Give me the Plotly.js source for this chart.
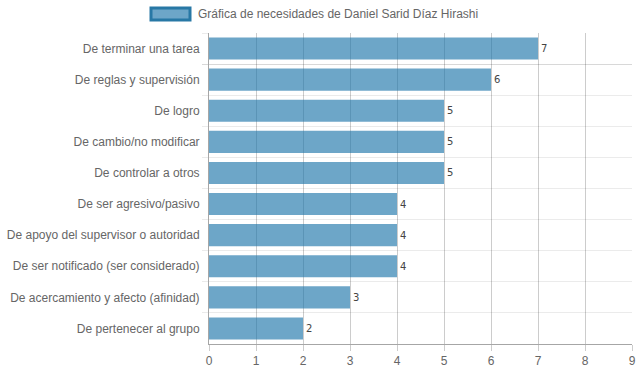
<!DOCTYPE html>
<html>
<head>
<meta charset="utf-8">
<script src="https://cdn.plot.ly/plotly-3.0.1.min.js"></script>
<style>html,body{margin:0;padding:0;background:#fff;}#chart{width:639px;height:372px;}</style>
</head>
<body>
<div id="chart"></div>
<script>
var categories = [
  "De terminar una tarea",
  "De reglas y supervisión",
  "De logro",
  "De cambio/no modificar",
  "De controlar a otros",
  "De ser agresivo/pasivo",
  "De apoyo del supervisor o autoridad",
  "De ser notificado (ser considerado)",
  "De acercamiento y afecto (afinidad)",
  "De pertenecer al grupo"
];
var values = [7, 6, 5, 5, 5, 4, 4, 4, 3, 2];
var seriesName = "Gráfica de necesidades de Daniel Sarid Díaz Hirashi";
var xTicks = [0, 1, 2, 3, 4, 5, 6, 7, 8, 9];

var font = "'Liberation Sans', Arial, Helvetica, sans-serif";

var trace = {
  type: "bar",
  orientation: "h",
  y: categories,
  x: values,
  name: seriesName,
  text: values.map(String),
  textposition: "outside",
  cliponaxis: false,
  textfont: {family: "'DejaVu Sans', sans-serif", size: 10, color: "#444"},
  marker: {color: "rgba(31,119,170,0.65)", line: {width: 0}},
  hoverinfo: "none"
};

var layout = {
  width: 639, height: 372,
  margin: {l: 209, r: 7, t: 33, b: 28, pad: 0},
  paper_bgcolor: "#fff", plot_bgcolor: "#fff",
  showlegend: false,
  bargap: 0.29,
  font: {family: font, size: 12, color: "#666"},
  xaxis: {
    range: [0, 9],
    tickvals: xTicks,
    ticktext: xTicks.map(String),
    showgrid: true, gridcolor: "rgba(0,0,0,0.2)", gridwidth: 1,
    zeroline: false,
    showline: true, linecolor: "rgba(0,0,0,0.35)", linewidth: 1,
    ticks: "outside", ticklen: 6, tickcolor: "rgba(0,0,0,0.2)",
    tickfont: {family: font, size: 12, color: "#666"},
    layer: "above traces"
  },
  yaxis: {
    type: "category",
    autorange: "reversed",
    tickson: "boundaries",
    showgrid: true, gridcolor: "rgba(0,0,0,0.08)", gridwidth: 1,
    showline: true, linecolor: "rgba(0,0,0,0.35)", linewidth: 1,
    ticks: "outside", ticklen: 6, tickcolor: "rgba(0,0,0,0.08)",
    ticklabelstandoff: 6,
    tickfont: {family: font, size: 12, color: "#666"}
  },
  shapes: [{
    type: "rect", xref: "paper", yref: "paper",
    x0: (151 - 209) / 423, x1: (190 - 209) / 423,
    y0: (311 - (20 - 33)) / 311, y1: (311 - (8 - 33)) / 311,
    fillcolor: "rgba(31,119,170,0.65)",
    line: {color: "rgb(40,120,165)", width: 3}
  }],
  annotations: [{
    xref: "paper", yref: "paper",
    x: (196 - 209) / 423, y: (311 - (14 - 33)) / 311,
    xanchor: "left", yanchor: "middle",
    text: seriesName, showarrow: false,
    font: {family: font, size: 12, color: "#666"}
  }]
};

Plotly.newPlot("chart", [trace], layout, {displayModeBar: false, staticPlot: true});
</script>
</body>
</html>
